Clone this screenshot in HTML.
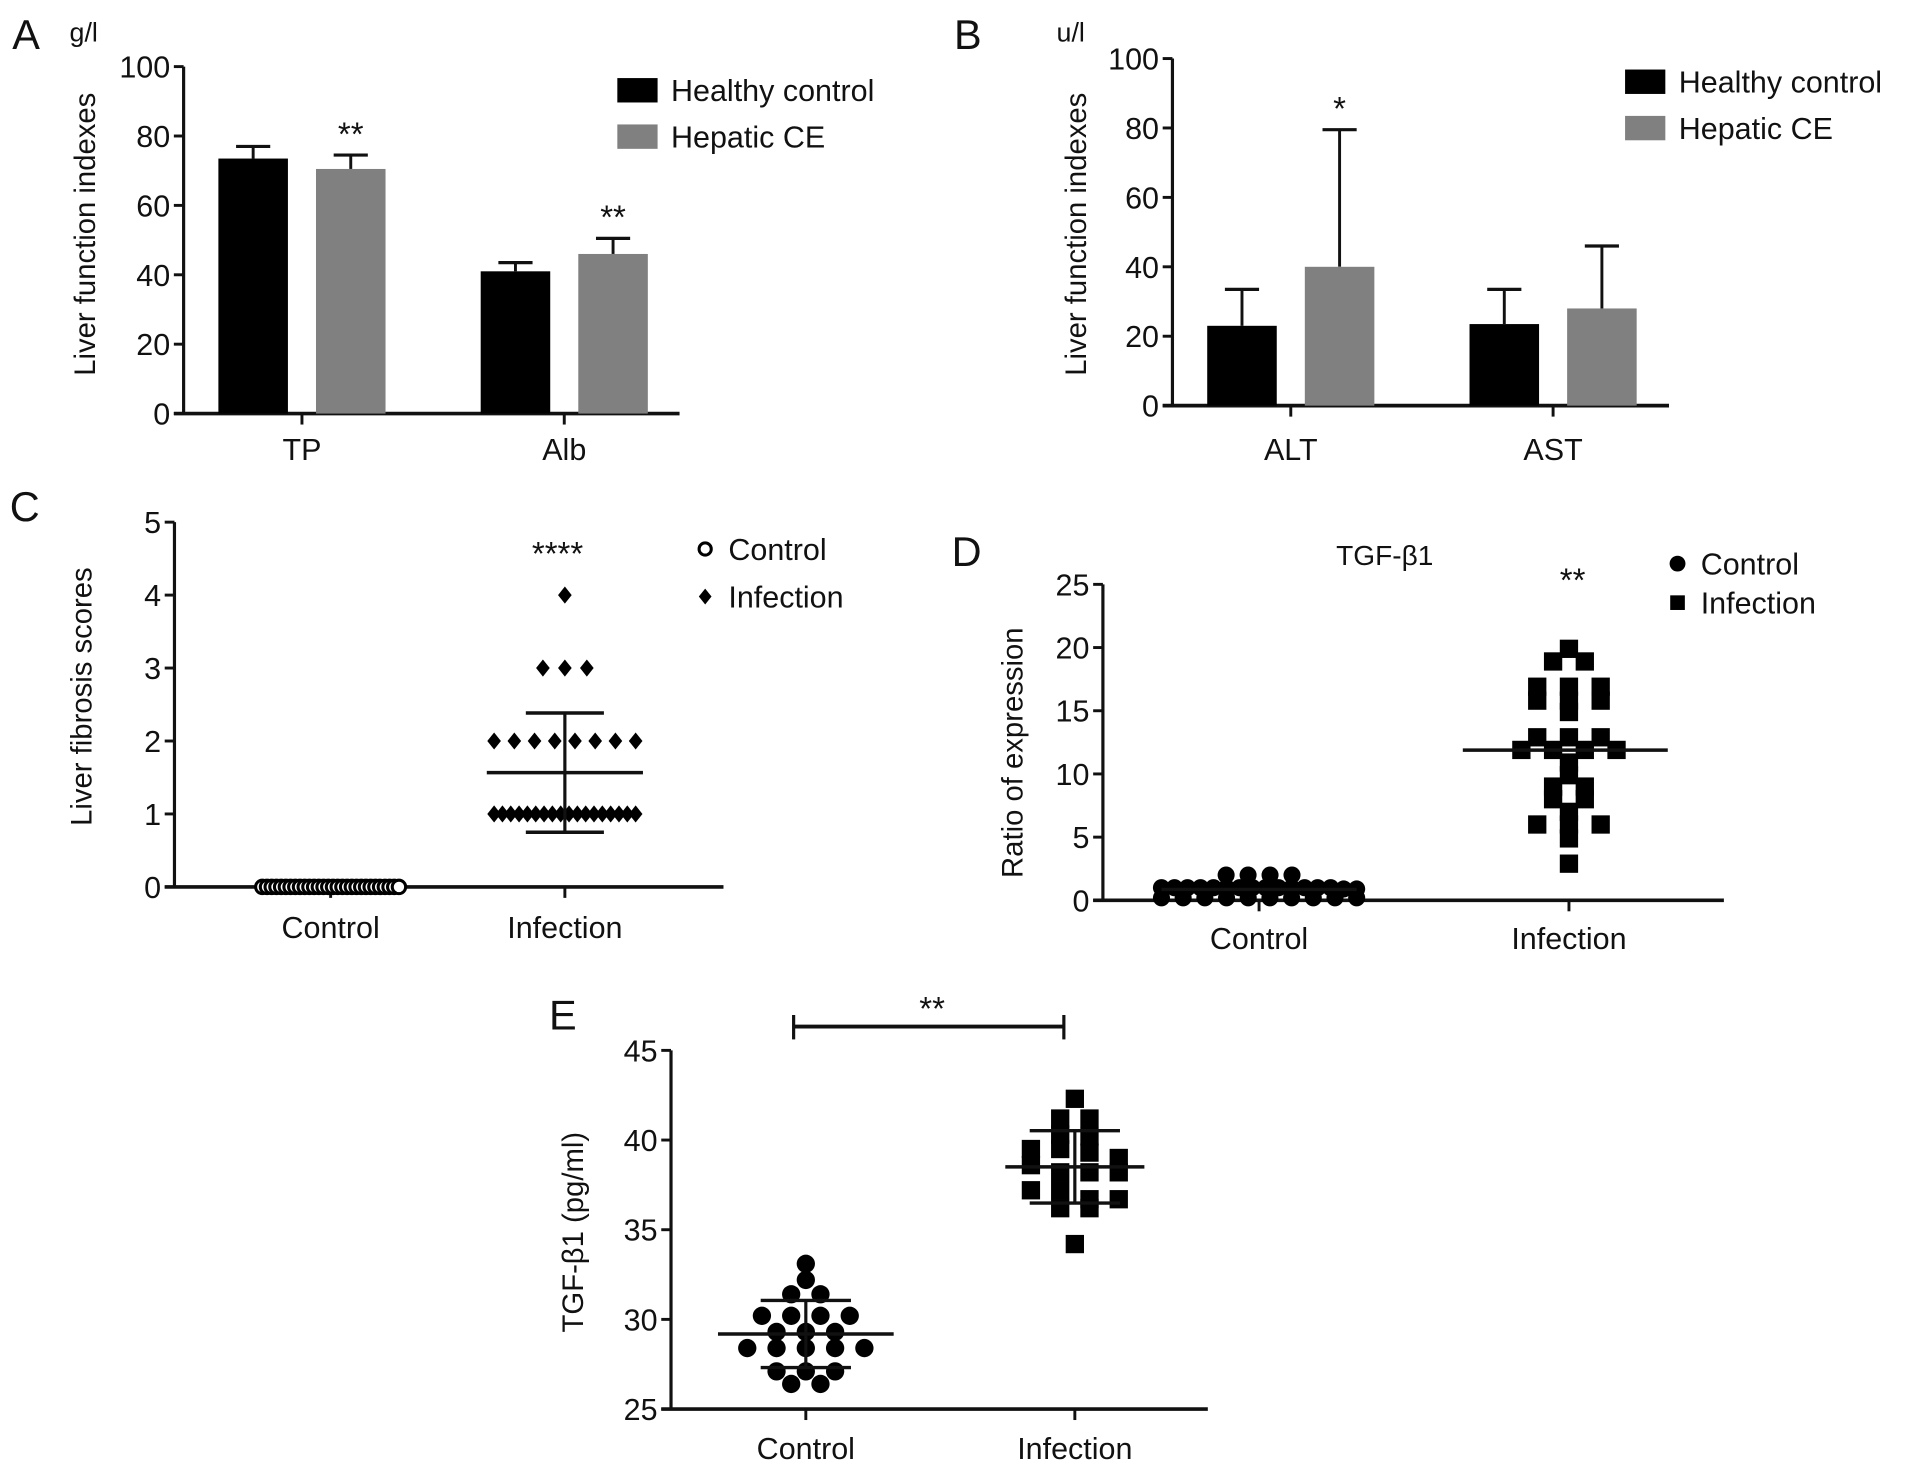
<!DOCTYPE html>
<html><head><meta charset="utf-8"><style>
html,body{margin:0;padding:0;background:#fff;}
svg{display:block;}
text{font-family:"Liberation Sans",Arial,sans-serif;fill:#111;}
</style></head>
<body>
<svg id="fig" xmlns="http://www.w3.org/2000/svg" width="1913" height="1472" viewBox="0 0 1568 1206.6" preserveAspectRatio="none"></svg>
<script>
// ---------- Panel A data ----------
const A_categories = ['TP', 'Alb'];
const A_healthy = [73.5, 41];
const A_hepatic = [70.5, 46];
const A_healthyErr = [3.5, 2.5];
const A_hepaticErr = [4, 4.5];
const A_sig = ['**', '**'];
const A_ticks = [0, 20, 40, 60, 80, 100];
// ---------- Panel B data ----------
const B_categories = ['ALT', 'AST'];
const B_healthy = [23, 23.5];
const B_hepatic = [40, 28];
const B_healthyErr = [10.5, 10];
const B_hepaticErr = [39.5, 18];
const B_sig = ['*', ''];
const B_ticks = [0, 20, 40, 60, 80, 100];
// ---------- Panel C data ----------
const C_categories = ['Control', 'Infection'];
const C_control = [0,0,0,0,0,0,0,0,0,0,0,0,0,0,0,0,0,0,0,0,0,0,0,0,0,0,0,0,0,0];
const C_infection = [4,3,3,3,2,2,2,2,2,2,2,2,1,1,1,1,1,1,1,1,1,1,1,1,1,1,1,1,1,1];
const C_ticks = [0, 1, 2, 3, 4, 5];
// ---------- Panel D data ----------
const D_categories = ['Control', 'Infection'];
const D_control = [2,2,2,2,1,1,1,1,1,1,1,1,1,1,1,1,1,1,0.9,0.9,0.2,0.2,0.2,0.2,0.2,0.2,0.2,0.2,0.2,0.2];
const D_infection = [19.9,18.9,18.9,16.9,16.9,16.9,15.8,15.8,15.8,14.9,12.9,12.9,12.9,11.9,11.9,11.9,11.9,10.9,9.9,9,9,8,8,7,6,6,6,4.9,2.9];
const D_ticks = [0, 5, 10, 15, 20, 25];
// ---------- Panel E data ----------
const E_categories = ['Control', 'Infection'];
const E_control = [33.1,32.2,31.4,31.4,30.2,30.2,30.2,30.2,29.3,29.3,29.3,28.4,28.4,28.4,28.4,28.4,27.1,27.1,27.1,26.4,26.4];
const E_infection = [42.3,41.2,41.2,40.3,40.2,39.5,39.5,39.3,39.0,38.6,38.2,38.2,38.2,37.2,37.2,36.7,36.7,36.2,36.2,34.2];
const E_ticks = [25, 30, 35, 40, 45];

const NS = 'http://www.w3.org/2000/svg';
const svg = document.getElementById('fig');
function mk(tag, attrs, parent) {
  const e = document.createElementNS(NS, tag);
  for (const k in attrs) e.setAttribute(k, attrs[k]);
  (parent || svg).appendChild(e);
  return e;
}
function txt(str, x, y, size, anchor, parent, rot) {
  const t = mk('text', {x: x, y: y, 'font-size': size, 'text-anchor': anchor || 'middle'}, parent);
  if (rot) t.setAttribute('transform', 'rotate(-90 ' + x + ' ' + y + ')');
  t.textContent = str;
  return t;
}
function line(x1, y1, x2, y2, w, parent) {
  return mk('line', {x1: x1, y1: y1, x2: x2, y2: y2, stroke: '#111', 'stroke-width': w || 2.6}, parent);
}
function mean(a) { return a.reduce((s, v) => s + v, 0) / a.length; }
function sd(a) { const m = mean(a); return Math.sqrt(a.reduce((s, v) => s + (v - m) * (v - m), 0) / (a.length - 1)); }

function axes(g, cfg) {
  const y = v => cfg.y0 - (v - cfg.vmin) / (cfg.vmax - cfg.vmin) * (cfg.y0 - cfg.y1);
  const yAxis = line(cfg.x0, y(cfg.vmax), cfg.x0, cfg.y0, 2.6, g);
  
  
  const xAxis = line(cfg.x0 - 8, cfg.y0, cfg.xEnd, cfg.y0, 3, g);
  
  
  cfg.ticks.forEach(v => {
    const tk = line(cfg.x0 - 8, y(v), cfg.x0, y(v), 2.4, g);
    
    
    const tl = txt(String(v), cfg.x0 - 11, y(v) + 9, 25, 'end', g);
    
    
  });
  cfg.cats.forEach((c, i) => {
    const cx = cfg.catX(i);
    const tk = line(cx, cfg.y0, cx, cfg.y0 + 9, 2.4, g);
    
    
    const tl = txt(c, cx, cfg.catY, 25, 'middle', g);
    
    
  });
  const title = txt(cfg.title, cfg.titleX, cfg.titleY, 24, 'middle', g, true);
  
  
  return y;
}

// ---------- bar panels ----------
function barPanel(name, cfg, cats, h, p, he, pe, sig, ticks) {
  const g = mk('g', {});
  
  
  cfg.cats = cats; cfg.ticks = ticks; cfg.vmin = 0; cfg.vmax = 100;
  cfg.catX = i => cfg.x0 + 97 + 215 * i;
  const y = axes(g, cfg);
  cats.forEach((c, i) => {
    [[h, he, '#000', -40, 'healthy'], [p, pe, '#808080', 40, 'hepatic']].forEach(s => {
      const cx = cfg.catX(i) + s[3];
      const v = s[0][i], e = s[1][i];
      const el1 = line(cx, y(v), cx, y(v + e), 2.4, g);
      
      
      const cap = line(cx - 14, y(v + e), cx + 14, y(v + e), 2.6, g);
      
      
      const r = mk('rect', {x: cx - 28.5, y: y(v), width: 57, height: y(0) - y(v), fill: s[2]}, g);
      
      
    });
    if (sig[i]) {
      const st = txt(sig[i], cfg.catX(i) + 40, y(p[i] + pe[i]) - 8, 27, 'middle', g);
      
      
    }
  });
  const lb1 = mk('rect', {x: cfg.legX, y: cfg.legY, width: 33, height: 20, fill: '#000'}, g);
  
  
  const lt1 = txt('Healthy control', cfg.legX + 44, cfg.legY + 19, 25, 'start', g);
  
  
  const lb2 = mk('rect', {x: cfg.legX, y: cfg.legY + 38, width: 33, height: 20, fill: '#808080'}, g);
  
  
  const lt2 = txt('Hepatic CE', cfg.legX + 44, cfg.legY + 57, 25, 'start', g);
  
  
  const pl = txt(cfg.letter, cfg.letterX, 40, 34, 'start', g);
  
  
  const un = txt(cfg.unit, cfg.unitX, 34, 22, 'start', g);
  
  
}

barPanel('panel-a', {x0: 150.5, xEnd: 557, y0: 339, y1: 54.6, catY: 377, title: 'Liver function indexes', titleX: 78, titleY: 192,
  legX: 506, legY: 64, letter: 'A', letterX: 10, unit: 'g/l', unitX: 57},
  A_categories, A_healthy, A_hepatic, A_healthyErr, A_hepaticErr, A_sig, A_ticks);
barPanel('panel-b', {x0: 961, xEnd: 1368, y0: 332.5, y1: 48, catY: 377, title: 'Liver function indexes', titleX: 890, titleY: 192,
  legX: 1332, legY: 57, letter: 'B', letterX: 782, unit: 'u/l', unitX: 866},
  B_categories, B_healthy, B_hepatic, B_healthyErr, B_hepaticErr, B_sig, B_ticks);

// ---------- scatter helpers ----------
function rows(vals, tol) {
  const s = vals.slice().sort((a, b) => b - a);
  const out = [];
  s.forEach(v => {
    const r = out[out.length - 1];
    if (r && r.start - v < tol) r.vals.push(v); else out.push({start: v, vals: [v]});
  });
  return out;
}
function marker(shape, x, yy, size, g, name) {
  let m;
  if (shape === 'circle') m = mk('circle', {cx: x, cy: yy, r: size / 2, fill: '#000'}, g);
  else if (shape === 'ocircle') m = mk('circle', {cx: x, cy: yy, r: size / 2 - 1.5, fill: '#fff', stroke: '#000', 'stroke-width': 2.5}, g);
  else if (shape === 'square') m = mk('rect', {x: x - size / 2, y: yy - size / 2, width: size, height: size, fill: '#000'}, g);
  else {
    const h = size / 2;
    m = mk('polygon', {points: (x) + ',' + (yy - h) + ' ' + (x + h * 0.8) + ',' + yy + ' ' + x + ',' + (yy + h) + ' ' + (x - h * 0.8) + ',' + yy, fill: '#000'}, g);
  }
  
  
}
function swarm(vals, cx, y, shape, size, spacing, maxW, tol, g, name) {
  rows(vals, tol).forEach(r => {
    const n = r.vals.length;
    const sp = n > 1 ? Math.min(spacing, maxW / (n - 1)) : 0;
    r.vals.forEach((v, i) => marker(shape, cx + (i - (n - 1) / 2) * sp, y(v), size, g, name));
  });
}
function statLine(cx, yy, half, g, name) {
  const l = line(cx - half, yy, cx + half, yy, 2.8, g);
  
  
}

// ---------- Panel C ----------
(function () {
  const g = mk('g', {});
  
  
  const cfg = {x0: 143, xEnd: 593, y0: 727, y1: 428, vmin: 0, vmax: 5, ticks: C_ticks, cats: C_categories,
    catX: i => 271 + 192 * i, catY: 769, title: 'Liver fibrosis scores', titleX: 75, titleY: 571};
  const y = axes(g, cfg);
  swarm(C_control, cfg.catX(0), y, 'ocircle', 14, 16, 112, 0.1, g, 'point-control');
  swarm(C_infection, cfg.catX(1), y, 'diamond', 14, 18, 116, 0.1, g, 'point-infection');
  const m = mean(C_infection), s = sd(C_infection), cx = cfg.catX(1);
  const v = line(cx, y(m + s), cx, y(m - s), 2.6, g);
  
  
  statLine(cx, y(m), 64, g, 'mean-line');
  statLine(cx, y(m + s), 32, g, 'sd-cap-upper');
  statLine(cx, y(m - s), 32, g, 'sd-cap-lower');
  const st = txt('****', cx - 6, 463, 27, 'middle', g);
  
  
  marker('ocircle', 578, 450, 13, g, 'legend-marker-control');
  const l1 = txt('Control', 597, 459, 25, 'start', g);
  
  
  marker('diamond', 578, 489, 13, g, 'legend-marker-infection');
  const l2 = txt('Infection', 597, 498, 25, 'start', g);
  
  
  const pl = txt('C', 8, 427, 34, 'start', g);
  
  
})();

// ---------- Panel D ----------
(function () {
  const g = mk('g', {});
  
  
  const cfg = {x0: 904, xEnd: 1413, y0: 738, y1: 479, vmin: 0, vmax: 25, ticks: D_ticks, cats: D_categories,
    catX: i => 1032 + 254 * i, catY: 778, title: 'Ratio of expression', titleX: 838, titleY: 617};
  const y = axes(g, cfg);
  swarm(D_control, cfg.catX(0), y, 'circle', 14, 18, 160, 0.3, g, 'point-control');
  swarm(D_infection, cfg.catX(1), y, 'square', 15, 26, 84, 0.5, g, 'point-infection');
  statLine(cfg.catX(0), y(mean(D_control)), 80, g, 'mean-line-control');
  statLine(cfg.catX(1) - 3, y(mean(D_infection)), 84, g, 'mean-line-infection');
  const st = txt('**', 1289, 485, 27, 'middle', g);
  
  
  const tt = txt('TGF-β1', 1135, 463, 23, 'middle', g);
  
  
  marker('circle', 1375, 462, 13, g, 'legend-marker-control');
  const l1 = txt('Control', 1394, 471, 25, 'start', g);
  
  
  marker('square', 1375, 494, 12, g, 'legend-marker-infection');
  const l2 = txt('Infection', 1394, 503, 25, 'start', g);
  
  
  const pl = txt('D', 780, 464, 34, 'start', g);
  
  
})();

// ---------- Panel E ----------
(function () {
  const g = mk('g', {});
  
  
  const cfg = {x0: 550, xEnd: 990, y0: 1155, y1: 861, vmin: 25, vmax: 45, ticks: E_ticks, cats: E_categories,
    catX: i => 660.5 + 220.5 * i, catY: 1196, title: 'TGF-β1 (pg/ml)', titleX: 478, titleY: 1010};
  const y = axes(g, cfg);
  swarm(E_control, cfg.catX(0), y, 'circle', 15, 24, 110, 0.4, g, 'point-control');
  swarm(E_infection, cfg.catX(1), y, 'square', 15, 24, 110, 0.75, g, 'point-infection');
  [[E_control, 0, 72], [E_infection, 1, 57]].forEach(a => {
    const m = mean(a[0]), s = sd(a[0]), cx = cfg.catX(a[1]);
    const v = line(cx, y(m + s), cx, y(m - s), 2.6, g);
    
    
    statLine(cx, y(m), a[2], g, 'mean-line');
    statLine(cx, y(m + s), 37, g, 'sd-cap-upper');
    statLine(cx, y(m - s), 37, g, 'sd-cap-lower');
  });
  const br = line(650.5, 841.5, 872, 841.5, 3.2, g);
  
  
  const c1 = line(650.5, 832, 650.5, 852, 2.6, g);
  
  
  const c2 = line(872, 832, 872, 852, 2.6, g);
  
  
  const st = txt('**', 764, 836, 27, 'middle', g);
  
  
  const pl = txt('E', 450, 844, 34, 'start', g);
  
  
})();
</script>
</body></html>
